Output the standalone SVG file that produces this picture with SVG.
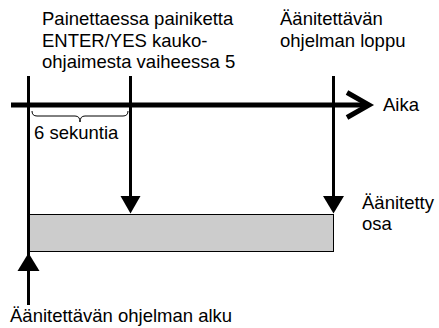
<svg xmlns="http://www.w3.org/2000/svg" width="439" height="328" viewBox="0 0 439 328">
<style>
text { font-family: "Liberation Sans", Arial, sans-serif; font-size: 18.5px; fill: #000; }
.ln { stroke: #000; stroke-width: 3; fill: none; }
.head { fill: #000; stroke: none; }
</style>
<rect width="439" height="328" fill="#fff"/>
<g id="recorded-part">
  <rect x="28.5" y="214.5" width="305" height="37" fill="#cccccc" stroke="#000" stroke-width="1"/>
  <text x="362" y="209">Äänitetty</text>
  <text x="362" y="230">osa</text>
</g>
<g id="time-axis">
  <line x1="11" y1="105" x2="367" y2="105" stroke="#000" stroke-width="5"/>
  <polyline points="347,92.5 369,105 347,117.5" fill="none" stroke="#000" stroke-width="5"/>
  <text x="383" y="111">Aika</text>
</g>
<g id="label-press">
  <text x="42" y="25">Painettaessa painiketta</text>
  <text x="42" y="47">ENTER/YES kauko-</text>
  <text x="42" y="68">ohjaimesta vaiheessa 5</text>
</g>
<g id="label-end">
  <text x="280" y="25">Äänitettävän</text>
  <text x="280" y="47">ohjelman loppu</text>
</g>
<g id="label-start">
  <text x="10" y="322">Äänitettävän ohjelman alku</text>
</g>
<g id="label-6s">
  <path d="M32,111 Q32,116 37,116 L75,116 Q80,116 80,122 Q80,116 85,116 L123,116 Q128,116 128,111" fill="none" stroke="#000" stroke-width="1"/>
  <text x="34" y="139">6 sekuntia</text>
</g>
<g id="connectors">
  <line class="ln" x1="28.5" y1="76" x2="28.5" y2="305"/>
  <polygon class="head" points="28.5,253 39.5,271 17.5,271"/>
  <line class="ln" x1="130.5" y1="76" x2="130.5" y2="198"/>
  <polygon class="head" points="120.5,196 140.5,196 130.5,213.5"/>
  <line class="ln" x1="333.5" y1="76" x2="333.5" y2="198"/>
  <polygon class="head" points="323,196 344,196 333.5,213.5"/>
</g>
</svg>
